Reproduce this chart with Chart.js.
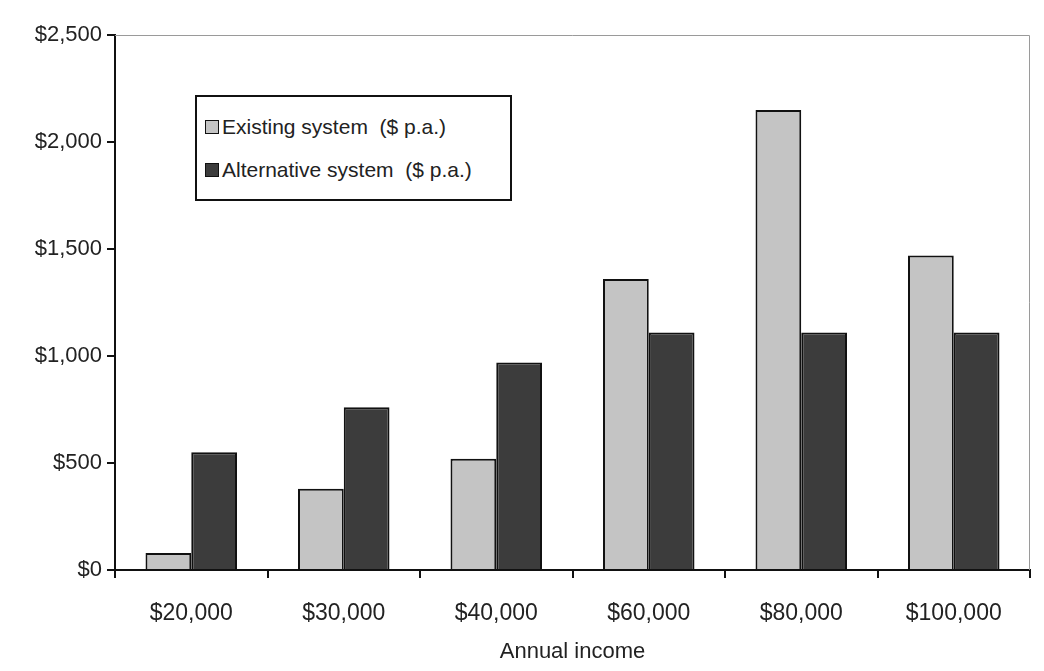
<!DOCTYPE html>
<html lang="en">
<head>
  <meta charset="UTF-8" />
  <title>Existing vs Alternative System</title>
  <script src="https://cdn.jsdelivr.net/npm/chart.js"></script>
  <style>
    body {
      margin: 0;
      background-color: #fff;
      font-family: "Liberation Sans", Arial, sans-serif;
    }
    #wrap {
      position: relative;
      width: 1044px;
      height: 671px;
    }
    #legend {
      position: absolute;
      left: 195px;
      top: 95px;
      width: 305px;
      border: 2px solid #111;
      background: #fff;
      padding: 8px 0 8px 8px;
      font-size: 21px;
      color: #222;
      line-height: 43px;
      white-space: pre;
    }
    #legend span.box {
      display: inline-block;
      width: 12px;
      height: 12px;
      border: 1px solid #111;
      margin-right: 3px;
      vertical-align: 0px;
    }
  </style>
</head>
<body>
  <div id="wrap">
    <canvas id="taxChart" width="1044" height="671"></canvas>
    <div id="legend"></div>
  </div>

  <script>
    const incomes = ["$20,000", "$30,000", "$40,000", "$60,000", "$80,000", "$100,000"];
    const existingSystem = [80, 380, 520, 1360, 2150, 1470];
    const alternativeSystem = [550, 760, 970, 1110, 1110, 1110];
    const seriesNames = ["Existing system  ($ p.a.)", "Alternative system  ($ p.a.)"];
    const seriesColors = ["#c4c4c4", "#3c3c3c"];

    // thin grey frame on top and right of the plot, like the original
    const frame = {
      id: "frame",
      afterDraw(chart) {
        const a = chart.chartArea;
        const ctx = chart.ctx;
        ctx.save();
        ctx.strokeStyle = "#9a9a9a";
        ctx.lineWidth = 1;
        ctx.beginPath();
        ctx.moveTo(a.left, a.top + 0.5);
        ctx.lineTo(a.right - 0.5, a.top + 0.5);
        ctx.lineTo(a.right - 0.5, a.bottom);
        ctx.stroke();
        ctx.restore();
      }
    };

    const family = "'Liberation Sans', Arial, sans-serif";

    new Chart(document.getElementById("taxChart"), {
      type: "bar",
      data: {
        labels: incomes,
        datasets: [
          { label: seriesNames[0], data: existingSystem, backgroundColor: seriesColors[0] },
          { label: seriesNames[1], data: alternativeSystem, backgroundColor: seriesColors[1] }
        ].map(d => Object.assign(d, {
          borderColor: "#111",
          borderWidth: 2,
          barPercentage: 1,
          categoryPercentage: 0.6
        }))
      },
      options: {
        responsive: false,
        animation: false,
        layout: { padding: { top: 35, right: 14, bottom: 2, left: 0 } },
        plugins: {
          legend: { display: false },
          tooltip: { enabled: false }
        },
        scales: {
          x: {
            grid: { offset: true, drawOnChartArea: false, tickLength: 8, color: "#111", lineWidth: 2 },
            border: { color: "#111", width: 2 },
            ticks: { font: { family, size: 23 }, color: "#222", padding: 22, maxRotation: 0 },
            title: { display: true, text: "Annual income", font: { family, size: 22 }, color: "#222", padding: { top: 2 } },
            afterFit: s => { s.height = 99; }
          },
          y: {
            min: 0,
            max: 2500,
            grid: { drawOnChartArea: false, tickLength: 8, color: "#111", lineWidth: 2 },
            border: { color: "#111", width: 2 },
            ticks: {
              stepSize: 500,
              font: { family, size: 22 },
              color: "#222",
              padding: 5,
              callback: v => "$" + v.toLocaleString("en-US")
            },
            afterFit: s => { s.width = 115; }
          }
        }
      },
      plugins: [frame]
    });

    document.getElementById("legend").innerHTML = seriesNames
      .map((n, i) => '<div><span class="box" style="background:' + seriesColors[i] + '"></span>' + n + '</div>')
      .join("");
  </script>
</body>
</html>
